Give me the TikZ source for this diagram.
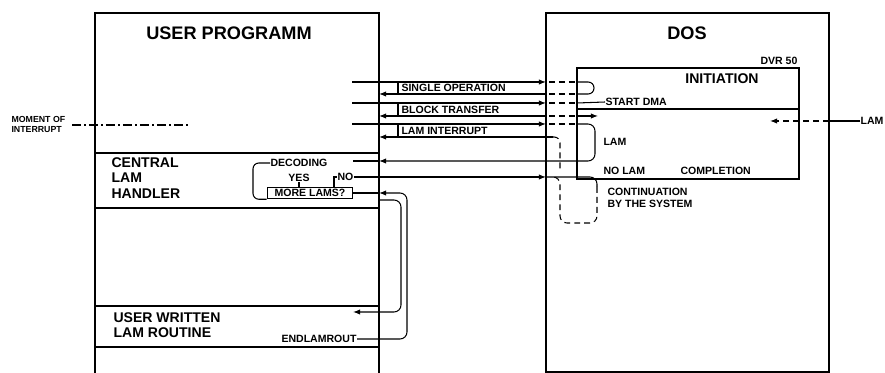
\documentclass[tikz,border=0pt]{standalone}
\usepackage{fontspec}
\setmainfont{Liberation Sans}
\usetikzlibrary{positioning,arrows.meta}

\tikzset{
  flow/.style={-{Latex[length=6pt,width=4.5pt]}},
  boxline/.style={line width=1.8pt},
  divider/.style={line width=1.2pt},
  dsh/.style={dash pattern=on 5pt off 3.5pt},
  lbl/.style={font=\bfseries\fontsize{9}{9.5}\selectfont, inner sep=0pt, align=left},
  titlefont/.style={font=\bfseries\fontsize{15.5}{17}\selectfont, inner sep=0pt},
  bodyfont/.style={font=\bfseries\fontsize{12}{13.2}\selectfont, inner sep=0pt, align=left}
}

\begin{document}
\begin{tikzpicture}[x=0.03cm, y=-0.03cm, line width=0.9pt]
\useasboundingbox (0,0) rectangle (885,373);

% box edges
\coordinate (upR) at (379,0);
\coordinate (dosL) at (546,0);
\coordinate (dosR) at (829,0);

% User programm
\draw[boxline] (95,373) -- (95,13) -- (379,13) -- (379,373);
\node[titlefont] (user) at (229,33) {USER PROGRAMM};
\foreach \y in {153,208,306,347}
    \draw[divider] (95,\y) -- (379,\y);
\node[bodyfont, anchor=north west] (central) at (111,157) {CENTRAL\\LAM\\HANDLER};
\node[bodyfont, anchor=north west] (routine) at (113,312) {USER WRITTEN\\LAM ROUTINE};

% moment of interrupt
\node[font=\bfseries\fontsize{7.5}{8.5}\selectfont, inner sep=0pt, align=left, anchor=west] (moment) at (11,124) {MOMENT OF\\INTERRUPT};
\draw[line width=1.1pt, dash pattern=on 8pt off 2.5pt on 1.5pt off 2.5pt] (72,125) -- (188,125);

% DOS
\draw[boxline] (546,13) rectangle (829,372);
\node[titlefont] (dos) at (687,33) {DOS};
\draw[line width=1.3pt] (577,68) rectangle (799,179);
\draw[divider] (577,109) -- (799,109);
\node[lbl, anchor=south east] (dvr) at (798,65) {DVR 50};
\node[font=\bfseries\fontsize{12}{13}\selectfont, inner sep=0pt] (init) at (722,79) {INITIATION};
\node[lbl, anchor=west] (dma) at (605,102) {START DMA};
\node[lbl, anchor=west] (lamin) at (603,142) {LAM};
\node[lbl, anchor=west] (nolam) at (603,171) {NO LAM};
\node[lbl, anchor=west] (compl) at (680,171) {COMPLETION};
\node[lbl, anchor=north west] (cont) at (607,188) {CONTINUATION\\BY THE SYSTEM};

% LAM from outside
\node[lbl, anchor=east] (lamext) at (884,121) {LAM};
\draw (lamext.west) -- (lamext.west -| dosR);
\draw[flow, dsh] (lamext.west -| dosR) -- (770,121);

% calls into DOS
\foreach \yo/\yr/\txt/\nm in {82/94/SINGLE OPERATION/single,103/116/BLOCK TRANSFER/block,124/137/LAM INTERRUPT/lamint} {
    \draw[flow] (352,\yo) -- (546,\yo);
    \draw (398,\yo) -- (398,\yr);
    \node[lbl, anchor=west] (\nm) at (401,{(\yo+\yr)/2}) {\txt};
}
% returns
\draw[flow] (546,94) -- (379,94);
\draw[flow] (546,116) -- (379,116);
\draw[flow] (553,137) -- (379,137);
\foreach \y in {82,94,103,116,124}
    \draw[dsh] (549,\y) -- (577,\y);

% inside DVR 50
\draw[rounded corners=5] (577,82) -- (594,82) -- (594,94) -- (577,94);
\draw (577,103) -- (dma.west);
\draw[flow] (577,116) -- (598,116);
\draw[flow, rounded corners=6] (577,124) -- (595,124) -- (595,161) -- (379,161);
\draw[dsh, rounded corners=5] (553,137) -- (560,137) -- (560,170);

% central handler
\node[lbl, anchor=west] (decode) at (270,163) {DECODING};
\node[lbl] (yes) at (299,178) {YES};
\node[lbl, anchor=west] (no) at (337,177) {NO};
\node[lbl, draw, line width=1.3pt, minimum width=2.55cm, minimum height=0.33cm, inner sep=1pt] (more) at (310,193) {MORE LAMS?};
\draw (379,161) -- (353,161);
\draw[rounded corners=5] (decode.west) -- ++(-17,0) |- (more.south west);
\draw (yes.south) -- (yes.south |- more.north);
\draw (no.west) -- (334,177) -- (334,187.5);
\draw[flow] (no.east) -- (no.east -| dosL);

% continuation by the system
\draw[rounded corners=6] (no.east -| dosL) -- (597,177) -- (597,187);
\draw[dsh, rounded corners=6] (597,187) -- (597,223) -- (560,223) -- (560,177) -- (554,177);

% user written routine
\node[lbl, anchor=east] (endlam) at (357,339) {ENDLAMROUT};
\draw[flow, rounded corners=6] (endlam.east) -- (407,339) -- (407,193) -- (379,193);
\draw (379,193) -- (more.east);
\draw[flow, rounded corners=6] (379,200) -- (401,200) -- (401,312) -- (353,312);
\end{tikzpicture}
\end{document}
